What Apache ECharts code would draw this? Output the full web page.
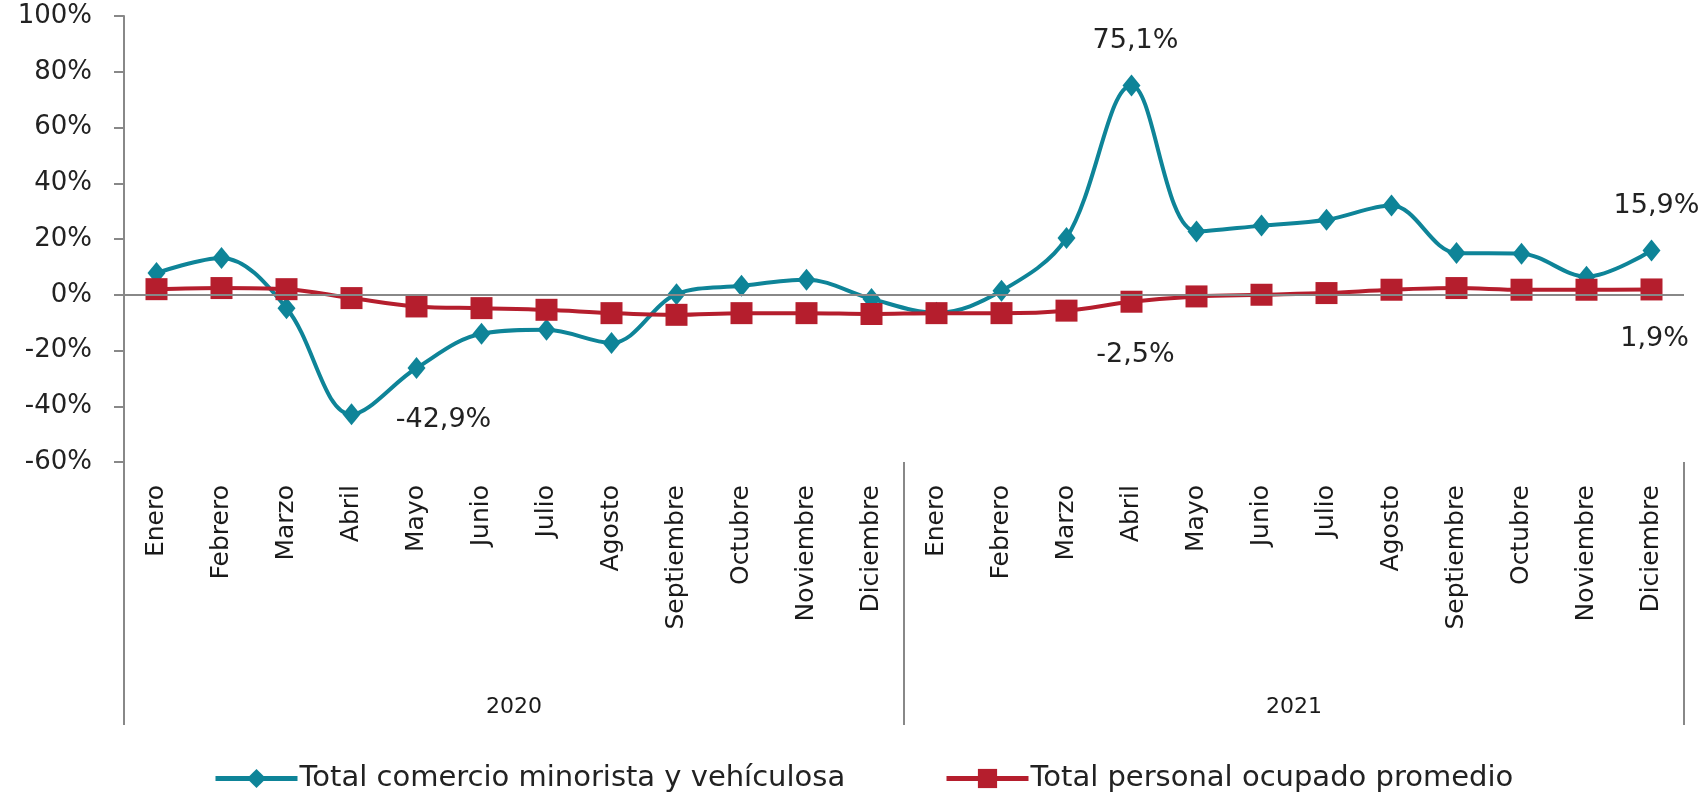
<!DOCTYPE html>
<html>
<head>
<meta charset="utf-8">
<script src="https://cdn.jsdelivr.net/npm/echarts@6/dist/echarts.min.js"></script>
<style>
  html, body { margin: 0; padding: 0; background: #fff; }
  #main { width: 1703px; height: 792px; }
</style>
</head>
<body>
<div id="main"></div>
<script>
var months = ['Enero', 'Febrero', 'Marzo', 'Abril', 'Mayo', 'Junio', 'Julio', 'Agosto',
  'Septiembre', 'Octubre', 'Noviembre', 'Diciembre'];
var years = ['2020', '2021'];
var categories = months.concat(months);

var comercio = [7.8, 13.2, -4.8, -42.9, -26.3, -14.0, -12.6, -17.3, 0.2, 3.2, 5.4, -1.5,
  -6.5, 1.4, 20.4, 75.1, 22.7, 24.8, 26.9, 32.0, 15.0, 14.7, 6.5, 15.9];
var personal = [2.0, 2.4, 2.0, -1.2, -4.2, -4.8, -5.4, -6.6, -7.2, -6.6, -6.6, -6.9,
  -6.6, -6.6, -5.7, -2.5, -0.6, 0.0, 0.6, 1.8, 2.4, 1.8, 1.8, 1.9];

var yTicks = { min: -60, max: 100, step: 20 };

var names = ['Total comercio minorista y vehículosa', 'Total personal ocupado promedio'];
var teal = '#0e8498';
var red = '#b51e2d';

// which points carry a value label, and where the label sits
var comercioLabels = { 3: [92, 6], 15: [4, -44], 23: [5, -44] };
var personalLabels = { 15: [4, 53], 23: [3, 50] };

function fmt(v) {
  return v.toFixed(1).replace('.', ',') + '%';
}

function withLabels(values, labels) {
  return values.map(function (v, i) {
    if (!labels[i]) return v;
    return {
      value: v,
      label: {
        show: true,
        position: 'inside',
        offset: labels[i],
        formatter: function (p) { return fmt(p.value); },
        fontFamily: 'DejaVu Sans',
        fontSize: 27,
        color: '#222'
      }
    };
  });
}

var legendText = { fontFamily: 'DejaVu Sans', fontSize: 29, color: '#222', padding: [0, 0, 0, -3] };

var myChart = echarts.init(document.getElementById('main'));

var option = {
  animation: false,
  grid: { left: 124, right: 19, top: 16, bottom: 330 },
  legend: [{
    data: [names[0]],
    left: 208,
    top: 759,
    itemWidth: 82,
    itemHeight: 24,
    lineStyle: { width: 5 },
    textStyle: legendText
  }, {
    data: [names[1]],
    left: 939,
    top: 759,
    itemWidth: 82,
    itemHeight: 24,
    lineStyle: { width: 5 },
    textStyle: legendText
  }],
  xAxis: [{
    type: 'category',
    data: categories,
    position: 'bottom',
    axisLine: { show: false, onZero: false },
    axisTick: { show: false },
    axisLabel: {
      interval: 0,
      rotate: 90,
      margin: 23,
      fontFamily: 'DejaVu Sans',
      fontSize: 25,
      color: '#1a1a1a'
    }
  }, {
    type: 'category',
    data: years,
    position: 'bottom',
    axisLine: { show: false, onZero: false },
    axisTick: {
      show: true,
      length: 263,
      interval: 0,
      lineStyle: { color: '#888', width: 2 }
    },
    axisLabel: {
      interval: 0,
      margin: 234,
      fontFamily: 'DejaVu Sans',
      fontSize: 22,
      color: '#1a1a1a'
    }
  }],
  yAxis: {
    type: 'value',
    min: yTicks.min,
    max: yTicks.max,
    interval: yTicks.step,
    splitLine: { show: false },
    axisLine: { show: true, lineStyle: { color: '#888', width: 2 } },
    axisTick: { show: true, length: 10, lineStyle: { color: '#888', width: 2 } },
    axisLabel: {
      margin: 32,
      formatter: '{value}%',
      fontFamily: 'DejaVu Sans',
      fontSize: 26,
      color: '#222'
    }
  },
  series: [{
    name: names[0],
    type: 'line',
    data: withLabels(comercio, comercioLabels),
    smooth: 0.35,
    symbol: 'diamond',
    symbolSize: [18, 22],
    itemStyle: { color: teal },
    lineStyle: { color: teal, width: 4 },
    markLine: {
      silent: true,
      symbol: 'none',
      label: { show: false },
      lineStyle: { color: '#888', width: 2, type: 'solid' },
      data: [{ yAxis: 0 }]
    },
    z: 2
  }, {
    name: names[1],
    type: 'line',
    data: withLabels(personal, personalLabels),
    smooth: 0.35,
    symbol: 'rect',
    symbolSize: 22,
    itemStyle: { color: red },
    lineStyle: { color: red, width: 4 },
    z: 3
  }]
};

myChart.setOption(option);
</script>
</body>
</html>
